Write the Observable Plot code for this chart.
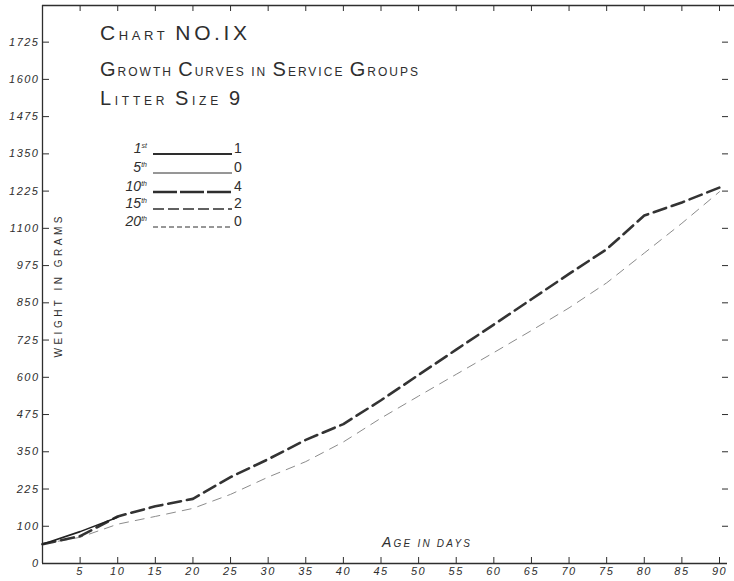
<!DOCTYPE html>
<html><head><meta charset="utf-8">
<script src="https://cdn.jsdelivr.net/npm/d3@7"></script>
<script src="https://cdn.jsdelivr.net/npm/@observablehq/plot@0.6"></script>
<style>
body{margin:0;background:#fff;}
#wrap{position:relative;width:734px;height:581px;background:#fff;}
#wrap svg{position:absolute;left:0;top:0;}
</style></head><body><div id="wrap"></div>
<script>
// ---- data ----
const days = [0,5,10,15,20,25,30,35,40,45,50,55,60,65,70,75,80,85,90];
const service10 = [40,67,133,167,192,265,325,390,443,523,608,693,777,862,947,1030,1143,1187,1237];
const service15 = [40,63,107,133,160,207,265,317,383,463,537,610,683,757,833,917,1017,1117,1223];
const days1 = [0,5,10];
const service1 = [40,82,130];

const yTickValues = [-25,100,225,350,475,600,725,850,975,1100,1225,1350,1475,1600,1725];
const yTickLabels = ["0","100","225","350","475","600","725","850","975","1100","1225","1350","1475","1600","1725"];
const xTicks = [5,10,15,20,25,30,35,40,45,50,55,60,65,70,75,80,85,90];

const legendNums = ["1","5","10","15","20"];
const legendSups = ["st","th","th","th","th"];
const legendCounts = ["1","0","4","2","0"];

// ---- styles ----
const ink = "#2e2e2e";
const legendStyles = [
  {w:1.8, dash:null, c:ink},
  {w:1.0, dash:null, c:ink},
  {w:2.6, dash:"24,3", c:ink},
  {w:1.3, dash:"11,4", c:ink},
  {w:1.0, dash:"5,3", c:ink}
];

const rows10 = days.map((d,i)=>({day:d, w:service10[i]}));
const rows15 = days.map((d,i)=>({day:d, w:service15[i]}));
const rows1 = days1.map((d,i)=>({day:d, w:service1[i]}));

const W = 734, H = 581;
const yTop = 1848;

const chart = Plot.plot({
  width: W, height: H,
  marginTop: 5, marginLeft: 42, marginRight: 15, marginBottom: 18,
  style: {fontFamily: "'Liberation Sans', Arial, sans-serif", color: ink, background: "white", letterSpacing: "1.5px", overflow: "visible"},
  x: {domain: [0, 90]},
  y: {domain: [-25, yTop]},
  marks: [
    Plot.ruleX([0], {stroke: ink, strokeWidth: 1.3}),
    Plot.ruleY([-25], {stroke: ink, strokeWidth: 1.3, insetRight: -8}),
    Plot.ruleY([yTop], {stroke: ink, strokeWidth: 1.3, insetRight: -15}),
    Plot.axisY(yTickValues, {anchor: "left", tickSize: -7, tickPadding: 10, label: null,
      tickFormat: d => yTickLabels[yTickValues.indexOf(d)], fontStyle: "italic", fontSize: 11, stroke: ink}),
    Plot.axisY(yTickValues.slice(1), {anchor: "right", tickSize: 6, dx: 2, label: null, tickFormat: () => "", stroke: ink}),
    Plot.axisX(xTicks, {anchor: "bottom", tickSize: -6, tickPadding: 10, label: null, fontStyle: "italic", fontSize: 11, stroke: ink}),
    Plot.axisX(xTicks, {anchor: "top", tickSize: -5, label: null, tickFormat: () => "", stroke: ink}),
    Plot.line(rows15, {x: "day", y: "w", stroke: "#8c8c8c", strokeWidth: 1, strokeDasharray: "9,7"}),
    Plot.line(rows10, {x: "day", y: "w", stroke: "#333", strokeWidth: 2.6, strokeDasharray: "13,6"}),
    Plot.line(rows1, {x: "day", y: "w", stroke: "#222", strokeWidth: 1.6})
  ]
});
const wrap = document.getElementById("wrap");
wrap.appendChild(chart);

// ---- overlay: titles, legend, axis labels ----
const ov = d3.select(wrap).append("svg").attr("width", W).attr("height", H)
  .style("font-family", "'Liberation Sans', Arial, sans-serif").style("fill", ink);

function smallCaps(sel, parts) {
  parts.forEach(p => sel.append("tspan").attr("font-size", p[1]).text(p[0]));
}
const titles = [
  {y: 40, len: 147, parts: [["C",21],["HART ",13],["NO.IX",21]]},
  {y: 76, len: 318, parts: [["G",20],["ROWTH ",12],["C",20],["URVES IN ",12],["S",20],["ERVICE ",12],["G",20],["ROUPS",12]]},
  {y: 105, len: 140, parts: [["L",20],["ITTER ",12],["S",20],["IZE ",12],["9",20]]}
];
titles.forEach(t => {
  const tx = ov.append("text").attr("x", 100).attr("y", t.y).attr("textLength", t.len)
    .attr("lengthAdjust", "spacing").attr("font-weight", 300);
  smallCaps(tx, t.parts);
});

const rowY = [154, 173, 192, 209, 227];
legendNums.forEach((n, i) => {
  const t = ov.append("text").attr("x", 147).attr("y", rowY[i] - 1).attr("text-anchor", "end")
    .attr("font-style", "italic").attr("font-size", 14).attr("font-weight", 300);
  t.append("tspan").text(n);
  t.append("tspan").attr("font-size", 7).attr("dy", -5).text(legendSups[i]);
  const s = legendStyles[i];
  ov.append("line").attr("x1", 153).attr("x2", 232).attr("y1", rowY[i]).attr("y2", rowY[i])
    .attr("stroke", s.c).attr("stroke-width", s.w).attr("stroke-dasharray", s.dash);
  ov.append("text").attr("x", 234).attr("y", rowY[i] - 1).attr("font-size", 14)
    .attr("font-weight", 300).text(legendCounts[i]);
});

ov.append("text").attr("transform", "translate(62,287) rotate(-90)").attr("text-anchor", "middle")
  .attr("font-size", 10).attr("textLength", 141).attr("lengthAdjust", "spacing").text("WEIGHT IN GRAMS");

const ag = ov.append("text").attr("x", 382).attr("y", 547).attr("font-style", "italic")
  .attr("textLength", 88).attr("lengthAdjust", "spacing");
smallCaps(ag, [["A",14],["GE IN DAYS",10]]);
</script>
</body></html>
